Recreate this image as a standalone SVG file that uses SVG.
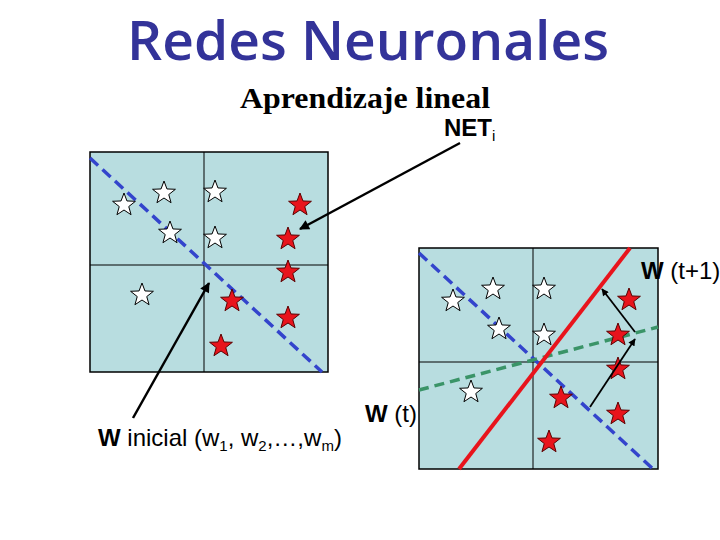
<svg xmlns="http://www.w3.org/2000/svg" width="720" height="540" viewBox="0 0 720 540">
<style>
.box{fill:#b8dde0;stroke:#000;stroke-width:1.5}
.div{stroke:#000;stroke-width:1;fill:none}
.ws{fill:#fff;stroke:#000;stroke-width:1}
.rs{fill:#e8141c;stroke:#5a0000;stroke-width:1}
.lbl{font-family:"Liberation Sans",Arial,sans-serif;font-size:24px;fill:#000}
.b{font-weight:bold}
.arr{stroke:#000;fill:none;marker-end:url(#ah)}
</style>
<defs>
<path id="star" d="M0,-12 L2.94,-4.05 L11.41,-3.71 L4.76,1.55 L7.05,9.71 L0,5 L-7.05,9.71 L-4.76,1.55 L-11.41,-3.71 L-2.94,-4.05 Z"/>
<marker id="ah" viewBox="0 0 10 10" refX="9" refY="5" markerWidth="4.5" markerHeight="4" orient="auto"><path d="M0,0 L10,5 L0,10 Z" fill="#000"/></marker>
</defs>
<rect width="720" height="540" fill="#fff"/>
<g id="title"><text x="368" y="60" text-anchor="middle" font-family="'Open Sans','Noto Sans',sans-serif" font-weight="600" font-size="55" fill="#333399" textLength="482" lengthAdjust="spacingAndGlyphs">Redes Neuronales</text></g>
<g id="subtitle"><text x="240" y="108" font-family="'Liberation Serif','Times New Roman',serif" font-weight="bold" font-size="29" fill="#000" textLength="250" lengthAdjust="spacingAndGlyphs">Aprendizaje lineal</text></g>
<g id="box-left">
<rect class="box" x="90" y="152" width="238" height="220"/>
<line class="div" x1="204" y1="152" x2="204" y2="372"/>
<line class="div" x1="90" y1="265" x2="328" y2="265"/>
<line x1="90" y1="158" x2="322" y2="372" stroke="#3344cc" stroke-width="3.5" stroke-dasharray="11 6"/>
<g id="stars-left">
<use href="#star" class="ws" x="124" y="205"/>
<use href="#star" class="ws" x="164" y="193"/>
<use href="#star" class="ws" x="215" y="192"/>
<use href="#star" class="ws" x="170" y="233"/>
<use href="#star" class="ws" x="215" y="238"/>
<use href="#star" class="ws" x="142" y="295"/>
<use href="#star" class="rs" x="300" y="205"/>
<use href="#star" class="rs" x="288" y="239"/>
<use href="#star" class="rs" x="288" y="272"/>
<use href="#star" class="rs" x="232" y="301"/>
<use href="#star" class="rs" x="288" y="318"/>
<use href="#star" class="rs" x="221" y="346"/>
</g>
</g>
<g id="box-right">
<rect class="box" x="419" y="248" width="239" height="221"/>
<line class="div" x1="533" y1="248" x2="533" y2="469"/>
<line class="div" x1="419" y1="362" x2="658" y2="362"/>
<line x1="419" y1="253" x2="653" y2="469" stroke="#3344cc" stroke-width="3.5" stroke-dasharray="11 6"/>
<line x1="419" y1="390" x2="658" y2="327" stroke="#3a9468" stroke-width="3.5" stroke-dasharray="10 6"/>
<g id="stars-right">
<use href="#star" class="ws" x="453" y="301"/>
<use href="#star" class="ws" x="493" y="289"/>
<use href="#star" class="ws" x="544" y="289"/>
<use href="#star" class="ws" x="499" y="329"/>
<use href="#star" class="ws" x="544" y="335"/>
<use href="#star" class="ws" x="471" y="392"/>
<use href="#star" class="rs" x="629" y="300"/>
<use href="#star" class="rs" x="618" y="335"/>
<use href="#star" class="rs" x="618" y="369"/>
<use href="#star" class="rs" x="561" y="398"/>
<use href="#star" class="rs" x="618" y="414"/>
<use href="#star" class="rs" x="549" y="442"/>
</g>
<line x1="459" y1="469" x2="630" y2="248" stroke="#e8141c" stroke-width="4"/>
</g>
<g id="connectors">
<line class="arr" x1="460" y1="143" x2="300" y2="229" stroke-width="2.5"/>
<line class="arr" x1="133" y1="418" x2="209" y2="283" stroke-width="2.5"/>
<line class="arr" x1="590" y1="407" x2="635" y2="339" stroke-width="1.8"/>
<line class="arr" x1="635" y1="332" x2="602" y2="289" stroke-width="1.8"/>
</g>
<g id="labels">
<text class="lbl" x="444" y="136" font-size="22"><tspan class="b">NET</tspan><tspan font-size="15" dy="5">i</tspan></text>
<text class="lbl" x="641" y="279"><tspan class="b">W</tspan> (t+1)</text>
<text class="lbl" x="365" y="422"><tspan class="b">W</tspan> (t)</text>
<text class="lbl" x="98" y="446"><tspan class="b">W</tspan> inicial (w<tspan font-size="15" dy="5">1</tspan><tspan dy="-5">, w</tspan><tspan font-size="15" dy="5">2</tspan><tspan dy="-5">,…,w</tspan><tspan font-size="15" dy="5">m</tspan><tspan dy="-5">)</tspan></text>
</g>
</svg>
